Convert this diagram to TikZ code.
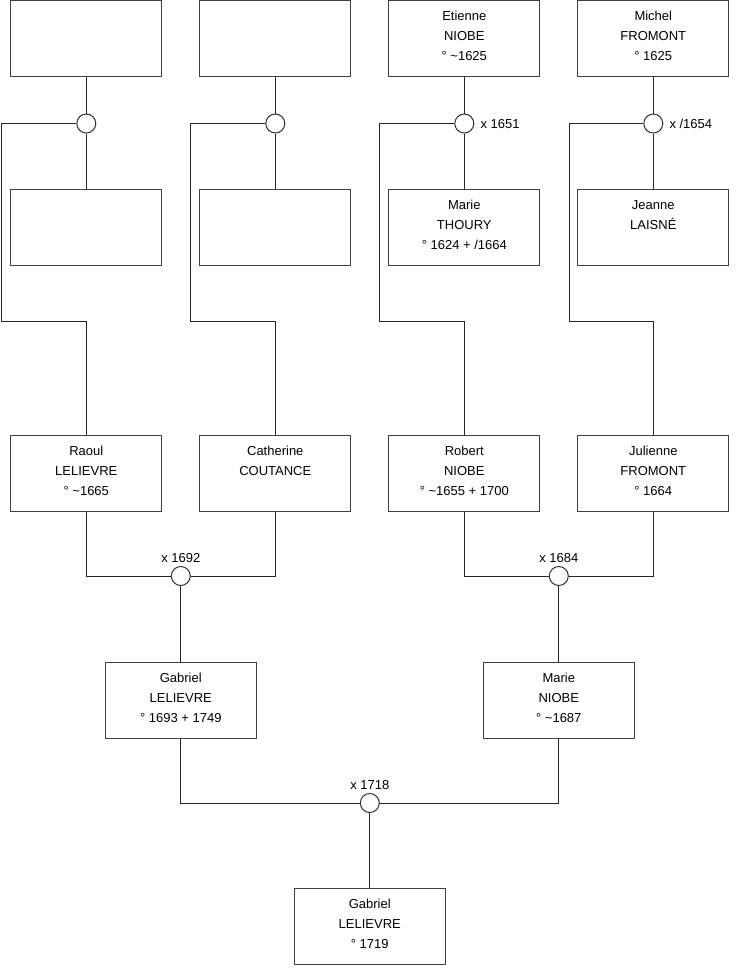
\documentclass[tikz,border=0pt]{standalone}
\usepackage{fontspec}
\setmainfont{Liberation Sans}
\newcommand\gstrut{\rule[-6.8pt]{0pt}{18.8pt}}
\begin{document}
\begin{tikzpicture}[x=1pt,y=-1pt,
  person/.style={draw=black!75, line width=1pt, minimum width=151pt, minimum height=76pt,
    inner sep=0pt, align=center, font=\fontsize{13}{20}\selectfont},
  union/.style={circle, draw=black!80, line width=1pt, minimum size=19pt, inner sep=0pt, fill=white},
  link/.style={line width=1pt, draw=black!85},
  note/.style={font=\fontsize{13}{16}\selectfont, inner sep=0pt}]
\useasboundingbox (0,0) rectangle (740,975);

% generation 1
\node[person] (a1) at (86.3,38) {};
\node[person] (a2) at (275.3,38) {};
\node[person] (a3) at (464.3,38) {Etienne\gstrut\\NIOBE\gstrut\\° \textasciitilde1625\gstrut};
\node[person] (a4) at (653.3,38) {Michel\gstrut\\FROMONT\gstrut\\° 1625\gstrut};
% generation 1 wives
\node[person] (b1) at (86.3,227) {};
\node[person] (b2) at (275.3,227) {};
\node[person] (b3) at (464.3,227) {Marie\gstrut\\THOURY\gstrut\\° 1624 + /1664\gstrut};
\node[person] (b4) at (653.3,227) {Jeanne\gstrut\\LAISNÉ\gstrut\\\gstrut};
% unions generation 1
\node[union] (u1) at (86.3,123.5) {};
\node[union] (u2) at (275.3,123.5) {};
\node[union] (u3) at (464.3,123.5) {};
\node[union] (u4) at (653.3,123.5) {};
\node[note, anchor=west] (l3) at ([xshift=6pt,yshift=-0.5pt]u3.east) {x 1651};
\node[note, anchor=west] (l4) at ([xshift=6pt,yshift=-0.5pt]u4.east) {x /1654};
% generation 2
\node[person] (c1) at (86.3,473) {Raoul\gstrut\\LELIEVRE\gstrut\\° \textasciitilde1665\gstrut};
\node[person] (c2) at (275.3,473) {Catherine\gstrut\\COUTANCE\gstrut\\\gstrut};
\node[person] (c3) at (464.3,473) {Robert\gstrut\\NIOBE\gstrut\\° \textasciitilde1655 + 1700\gstrut};
\node[person] (c4) at (653.3,473) {Julienne\gstrut\\FROMONT\gstrut\\° 1664\gstrut};
\node[union] (uA) at (180.8,576) {};
\node[union] (uB) at (558.8,576) {};
\node[note, anchor=base] (lA) at ([yshift=4pt]uA.north) {x 1692};
\node[note, anchor=base] (lB) at ([yshift=4pt]uB.north) {x 1684};
% generation 3
\node[person] (d1) at (180.8,700) {Gabriel\gstrut\\LELIEVRE\gstrut\\° 1693 + 1749\gstrut};
\node[person] (d2) at (558.8,700) {Marie\gstrut\\NIOBE\gstrut\\° \textasciitilde1687\gstrut};
\node[union] (uC) at (369.8,803) {};
\node[note, anchor=base] (lC) at ([yshift=4pt]uC.north) {x 1718};
% generation 4
\node[person] (e1) at (369.8,926) {Gabriel\gstrut\\LELIEVRE\gstrut\\° 1719\gstrut};

% connectors generation 1
\foreach \i/\xl in {1/1.7, 2/190.3, 3/379.3, 4/569} {
  \draw[link] (a\i.south) -- (u\i.north);
  \draw[link] (u\i.south) -- (b\i.north);
  \draw[link] (u\i.west) -| (\xl,321.7) -| (c\i.north);
}
% connectors generation 2
\draw[link] (c1.south) |- (uA.west);
\draw[link] (c2.south) |- (uA.east);
\draw[link] (uA.south) -- (d1.north);
\draw[link] (c3.south) |- (uB.west);
\draw[link] (c4.south) |- (uB.east);
\draw[link] (uB.south) -- (d2.north);
% connectors generation 3
\draw[link] (d1.south) |- (uC.west);
\draw[link] (d2.south) |- (uC.east);
\draw[link] (uC.south) -- (e1.north);
\end{tikzpicture}
\end{document}
